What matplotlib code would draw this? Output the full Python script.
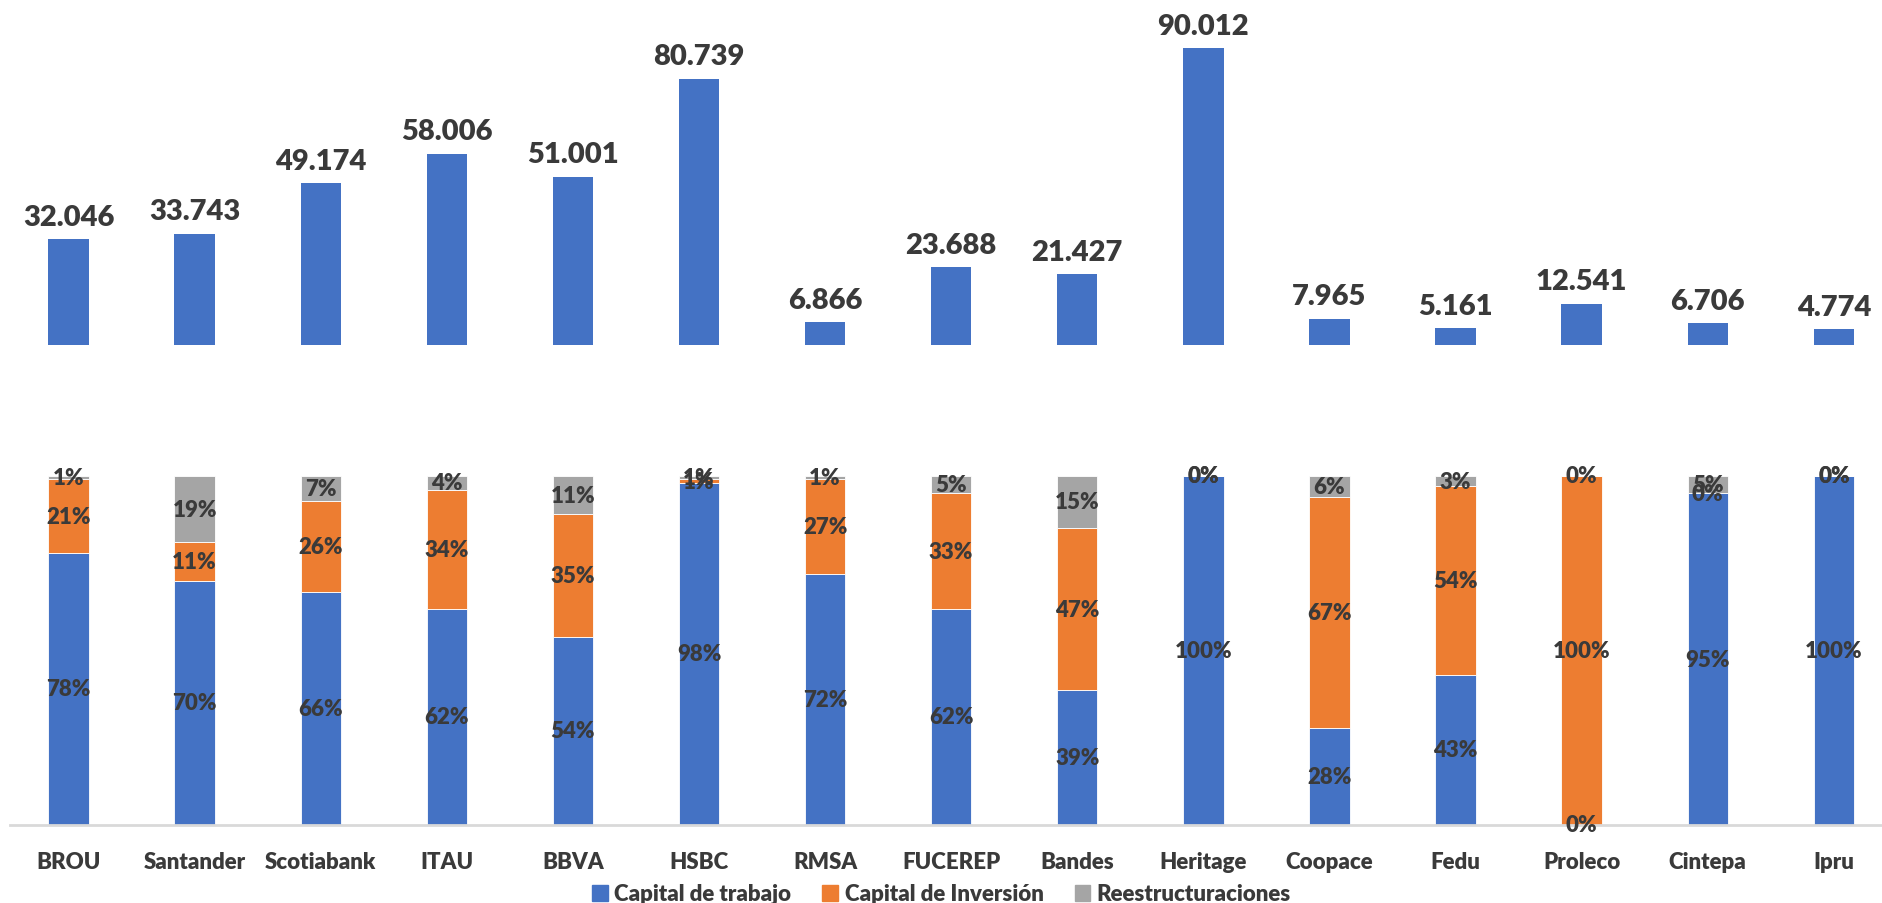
import numpy as np
import matplotlib
matplotlib.use('Agg')
import matplotlib.pyplot as plt
from matplotlib.patches import Patch

plt.rcParams['font.family'] = ['Lato', 'DejaVu Sans']

bancos = ['BROU', 'Santander', 'Scotiabank', 'ITAU', 'BBVA', 'HSBC', 'RMSA', 'FUCEREP',
          'Bandes', 'Heritage', 'Coopace', 'Fedu', 'Proleco', 'Cintepa', 'Ipru']
totales = [32046, 33743, 49174, 58006, 51001, 80739, 6866, 23688,
           21427, 90012, 7965, 5161, 12541, 6706, 4774]
cap_trabajo = [78, 70, 66, 62, 54, 98, 72, 62, 39, 100, 28, 43, 0, 95, 100]
cap_inversion = [21, 11, 26, 34, 35, 1, 27, 33, 47, 0, 67, 54, 100, 0, 0]
reestruct = [1, 19, 7, 4, 11, 1, 1, 5, 15, 0, 6, 3, 0, 5, 0]

azul = '#4472C4'
naranja = '#ED7D31'
gris = '#A5A5A5'
txt = '#3A3A3A'
peso = 'heavy'

W, H = 1883, 904
fig = plt.figure(figsize=(W / 100, H / 100), dpi=100)

x = np.arange(len(bancos))
ancho = 0.32
x0, x1 = -0.464, 14.39

# grafico superior: totales
ax1 = fig.add_axes([10 / W, 1 - 346 / H, (W - 10) / W, 346 / H])
ax1.bar(x, totales, width=ancho, color=azul)
ax1.set_xlim(x0, x1)
ax1.set_ylim(0, 104850)
ax1.axis('off')
for xi, v in zip(x, totales):
    etiqueta = f'{v:,}'.replace(',', '.')
    ax1.annotate(etiqueta, (xi, v), xytext=(0, 16), textcoords='offset points',
                 ha='center', va='center', fontsize=21, fontweight=peso, color=txt)

# grafico inferior: composicion 100%
ax2 = fig.add_axes([10 / W, 1 - 826 / H, (W - 10) / W, 349 / H])
tabla = np.array([cap_trabajo, cap_inversion, reestruct], dtype=float)
frac = tabla / tabla.sum(axis=0)
base = np.zeros(len(bancos))
for fila, valores, color in zip(frac, tabla, [azul, naranja, gris]):
    ax2.bar(x, fila, width=ancho, bottom=base, color=color, edgecolor='white', linewidth=0.6)
    for xi, b, h, val in zip(x, base, fila, valores):
        ax2.text(xi, b + h / 2, f'{int(val)}%', ha='center', va='center',
                 fontsize=16, fontweight=peso, color=txt, clip_on=False)
    base = base + fila

ax2.set_xlim(x0, x1)
ax2.set_ylim(0, 1)
ax2.set_yticks([])
for s in ['top', 'right', 'left']:
    ax2.spines[s].set_visible(False)
ax2.spines['bottom'].set_color('#D9D9D9')
ax2.spines['bottom'].set_linewidth(2)
ax2.set_xticks(x)
ax2.set_xticklabels(bancos, fontsize=16, fontweight=peso, color=txt)
ax2.tick_params(axis='x', length=0, pad=19)

handles = [Patch(color=azul, label='Capital de trabajo'),
           Patch(color=naranja, label='Capital de Inversión'),
           Patch(color=gris, label='Reestructuraciones')]
fig.legend(handles=handles, loc='center', bbox_to_anchor=(0.5, 1 - 895 / H), ncol=3,
           frameon=False, handlelength=0.7, handleheight=0.7, handletextpad=0.3,
           columnspacing=1.4, prop={'size': 16, 'weight': peso}, labelcolor=txt)

fig.savefig('out.png', dpi=100)
